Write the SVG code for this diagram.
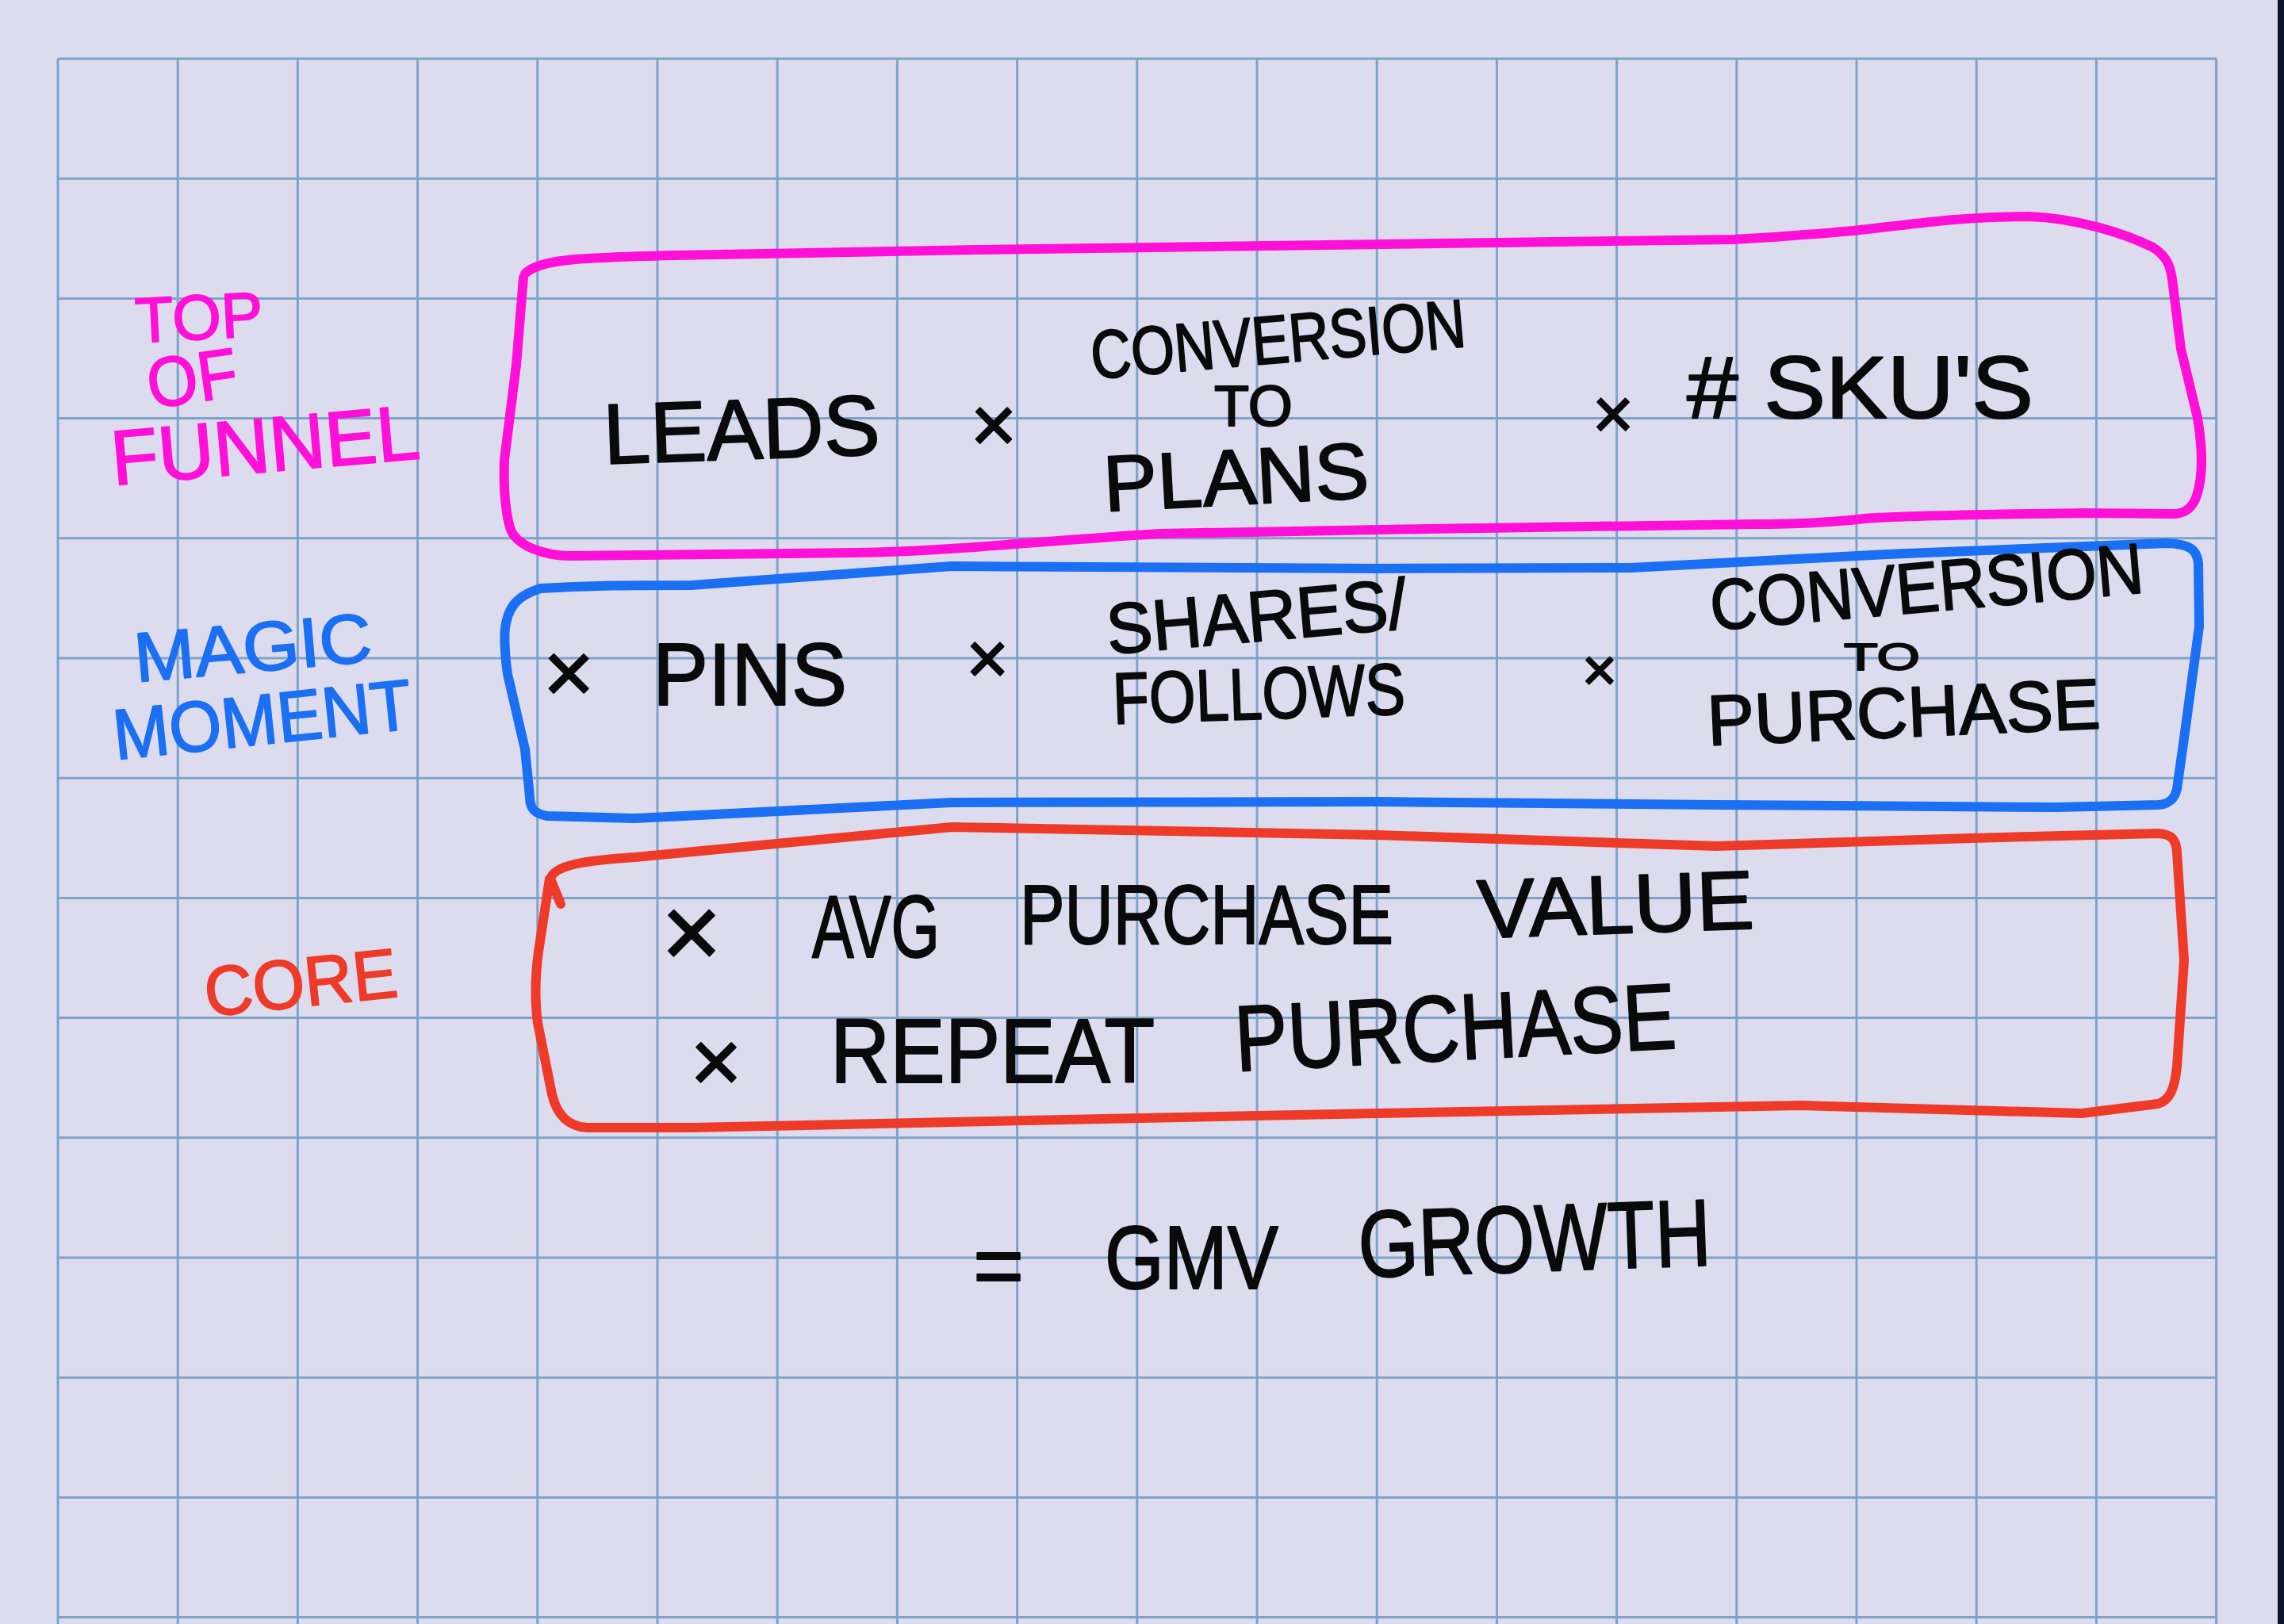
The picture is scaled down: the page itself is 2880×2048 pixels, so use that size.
<svg xmlns="http://www.w3.org/2000/svg" width="2880" height="2048" viewBox="0 0 2880 2048">
<defs>
<style>
.grid{stroke:#7fa3c8;stroke-width:3;fill:none}
.box{fill:none;stroke-width:12;stroke-linecap:round;stroke-linejoin:round}
.hw{font-family:"Liberation Sans","DejaVu Sans",sans-serif;stroke-width:2;stroke-linejoin:round}
.k{fill:#0a0a0a;stroke:#0a0a0a}
.m{fill:#ff10d8;stroke:#ff10d8}
.b{fill:#1b6ff2;stroke:#1b6ff2}
.r{fill:#ee3a28;stroke:#ee3a28}
</style>
</defs>
<rect x="0" y="0" width="2880" height="2048" fill="#dcdcee"/>
<rect x="2872" y="0" width="8" height="2048" fill="#0b1428"/>
<g id="grid" class="grid">
<path d="M73 74V2048M224.2 74V2048M375.4 74V2048M526.6 74V2048M677.8 74V2048M829 74V2048M980.2 74V2048M1131.4 74V2048M1282.6 74V2048M1433.8 74V2048M1585 74V2048M1736.2 74V2048M1887.4 74V2048M2038.6 74V2048M2189.8 74V2048M2341 74V2048M2492.2 74V2048M2643.4 74V2048M2794.6 74V2048"/>
<path d="M73 74H2794.6M73 225.2H2794.6M73 376.4H2794.6M73 527.6H2794.6M73 678.8H2794.6M73 830H2794.6M73 981.2H2794.6M73 1132.4H2794.6M73 1283.6H2794.6M73 1434.8H2794.6M73 1586H2794.6M73 1737.2H2794.6M73 1888.4H2794.6M73 2039.6H2794.6"/>
</g>
<g id="labels">
<g id="label-top">
<text class="hw m" x="172" y="432" font-size="80" textLength="161" lengthAdjust="spacingAndGlyphs" transform="rotate(-3 172 432)">TOP</text>
<text class="hw m" x="190" y="515" font-size="88" textLength="114" lengthAdjust="spacingAndGlyphs" transform="rotate(-8 190 515)">OF</text>
<text class="hw m" x="143" y="612" font-size="98" textLength="390" lengthAdjust="spacingAndGlyphs" transform="rotate(-5 143 612)">FUNNEL</text>
</g>
<g id="label-magic">
<text class="hw b" x="172" y="860" font-size="88" textLength="300" lengthAdjust="spacingAndGlyphs" transform="rotate(-5 172 860)">MAGIC</text>
<text class="hw b" x="146" y="958" font-size="90" textLength="378" lengthAdjust="spacingAndGlyphs" transform="rotate(-6 146 958)">MOMENT</text>
</g>
<g id="label-core">
<text class="hw r" x="261" y="1282" font-size="88" textLength="244" lengthAdjust="spacingAndGlyphs" transform="rotate(-6 261 1282)">CORE</text>
</g>
</g>
<g id="top-of-funnel">
<path class="box" stroke="#ff10d8" d="M662 345 C680 328,720 325,850 322 L1232 315 L1814 307 L2186 302 C2260 298,2300 294,2337 291 C2420 282,2460 274,2558 273 C2620 275,2680 295,2715 312 C2735 325,2738 340,2740 360 L2750 440 L2771 527 C2778 570,2778 600,2770 625 C2765 640,2755 647,2743 648 L2626 647 C2500 649,2400 650,2351 654 C2300 660,2250 661,2213 661 L1800 667 L1462 673 C1300 683,1200 695,1079 697 L720 701 C690 701,650 690,643 665 C636 640,635 610,636 580 L651 460 L660 350"/>
<text class="hw k" x="762" y="585" font-size="108" textLength="349" lengthAdjust="spacingAndGlyphs" transform="rotate(-2 762 585)">LEADS</text>
<text class="hw k" x="1253" y="570" font-size="100" text-anchor="middle">×</text>
<text class="hw k" x="1378" y="478" font-size="86" textLength="474" lengthAdjust="spacingAndGlyphs" transform="rotate(-5 1378 478)">CONVERSION</text>
<text class="hw k" x="1531" y="537" font-size="72" textLength="99" lengthAdjust="spacingAndGlyphs">TO</text>
<text class="hw k" x="1393" y="645" font-size="100" textLength="335" lengthAdjust="spacingAndGlyphs" transform="rotate(-3 1393 645)">PLANS</text>
<text class="hw k" x="2034" y="553" font-size="90" text-anchor="middle">×</text>
<text class="hw k" x="2127" y="527" font-size="112" textLength="437" lengthAdjust="spacingAndGlyphs">#  SKU'S</text>
</g>
<g id="magic-moment">
<path class="box" stroke="#1b6ff2" d="M637 792 C640 770,648 752,682 742 C750 738,800 738,872 738 L1200 714 L1736 717 L2057 716 L2379 699 L2732 685 C2760 686,2770 692,2772 710 L2773 790 L2754 931 L2745 995 C2742 1008,2735 1014,2721 1015 L2593 1018 L2164 1015 L1736 1011 L1200 1012 L801 1032 L690 1029 C674 1026,668 1020,668 1005 L662 945 L640 850 C636 825,636 800,637 792"/>
<text class="hw k" x="717" y="886" font-size="110" text-anchor="middle">×</text>
<text class="hw k" x="823" y="889" font-size="112" textLength="245" lengthAdjust="spacingAndGlyphs">PINS</text>
<text class="hw k" x="1245" y="862" font-size="92" text-anchor="middle">×</text>
<text class="hw k" x="1398" y="825" font-size="90" textLength="380" lengthAdjust="spacingAndGlyphs" transform="rotate(-5 1398 825)">SHARES/</text>
<text class="hw k" x="1404" y="913" font-size="92" textLength="369" lengthAdjust="spacingAndGlyphs" transform="rotate(-2 1404 913)">FOLLOWS</text>
<text class="hw k" x="2017" y="871" font-size="76" text-anchor="middle">×</text>
<text class="hw k" x="2159" y="795" font-size="90" textLength="548" lengthAdjust="spacingAndGlyphs" transform="rotate(-5 2159 795)">CONVERSION</text>
<text class="hw k" x="2325" y="845" font-size="48" textLength="96" lengthAdjust="spacingAndGlyphs">TO</text>
<text class="hw k" x="2154" y="940" font-size="90" textLength="496" lengthAdjust="spacingAndGlyphs" transform="rotate(-2.5 2154 940)">PURCHASE</text>
</g>
<g id="core">
<path class="box" stroke="#ee3a28" d="M707 1140 L694 1108 C700 1090,740 1085,801 1081 L1200 1043 L1736 1053 L2164 1067 L2486 1057 L2721 1051 C2738 1052,2744 1058,2745 1075 L2754 1211 L2745 1345 C2742 1375,2735 1388,2721 1392 L2625 1404 L2271 1394 L1736 1404 L1200 1415 L872 1422 L740 1422 C715 1420,702 1405,696 1380 L678 1290 C674 1260,675 1230,679 1200 L693 1108"/>
<text class="hw k" x="872" y="1220" font-size="130" text-anchor="middle">×</text>
<text class="hw k" x="1024" y="1207" font-size="112" textLength="161" lengthAdjust="spacingAndGlyphs">AVG</text>
<text class="hw k" x="1286" y="1190" font-size="105" textLength="471" lengthAdjust="spacingAndGlyphs">PURCHASE</text>
<text class="hw k" x="1864" y="1183" font-size="105" textLength="349" lengthAdjust="spacingAndGlyphs" transform="rotate(-2 1864 1183)">VALUE</text>
<text class="hw k" x="903" y="1377" font-size="112" text-anchor="middle">×</text>
<text class="hw k" x="1047" y="1365" font-size="115" textLength="409" lengthAdjust="spacingAndGlyphs">REPEAT</text>
<text class="hw k" x="1559" y="1351" font-size="118" textLength="557" lengthAdjust="spacingAndGlyphs" transform="rotate(-3 1559 1351)">PURCHASE</text>
</g>
<g id="result">
<text class="hw k" x="1259" y="1633" font-size="110" text-anchor="middle">=</text>
<text class="hw k" x="1393" y="1625" font-size="113" textLength="219" lengthAdjust="spacingAndGlyphs">GMV</text>
<text class="hw k" x="1714" y="1611" font-size="120" textLength="445" lengthAdjust="spacingAndGlyphs" transform="rotate(-2 1714 1611)">GROWTH</text>
</g>
<g id="connectors"></g>
</svg>
